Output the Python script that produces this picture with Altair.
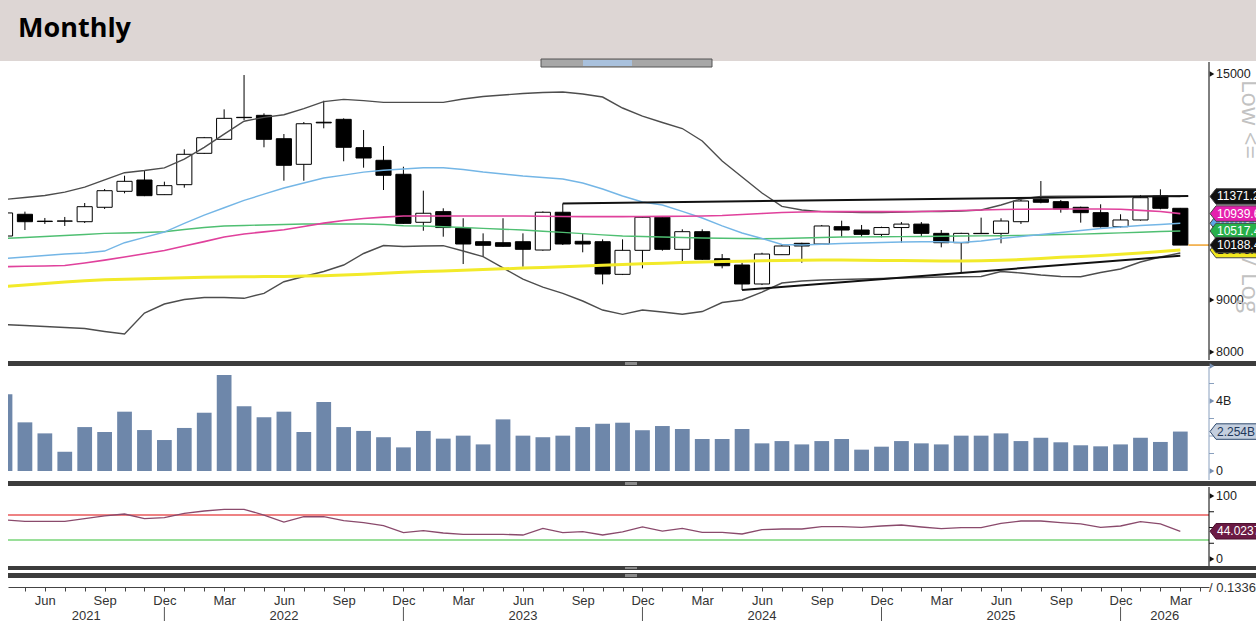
import altair as alt
import pandas as pd

# ---------------- data ----------------
months = pd.date_range("2021-04-01", periods=60, freq="MS")

open_px = [10399, 10923, 10745, 10755, 10741, 11097, 11505, 11803, 11418, 11679,
           12537, 12940, 13600, 13661, 12958, 12229, 13450, 13538, 12698, 12341,
           11957, 10727, 10988, 10582, 10266, 10243, 10266, 10075, 10973, 10275,
           10266, 9536, 10068, 10850, 10091, 10501, 9879, 9739, 9330, 9969,
           10229, 10213, 10621, 10541, 10438, 10600, 10683, 10462, 10243, 10455,
           10462, 10741, 11300, 11239, 11097, 10963, 10621, 10783, 11384, 11072]
high_px = [11030, 10988, 10832, 10857, 11205, 11565, 11918, 12046, 11758, 12651,
           13010, 13848, 14965, 13723, 13096, 13456, 14120, 13569, 13215, 12746,
           12163, 11521, 11072, 10825, 10462, 10825, 10462, 10993, 11193, 10445,
           10321, 10321, 10864, 10864, 10558, 10558, 9984, 9789, 10013, 10190,
           10243, 10662, 10766, 10662, 10621, 10732, 10732, 10541, 10476, 10840,
           10825, 11300, 11776, 11282, 11113, 11172, 10923, 11410, 11557, 11080]
low_px = [10352, 10541, 10686, 10638, 10710, 11055, 11453, 11380, 11410, 11600,
          12518, 12920, 13517, 12709, 11784, 11784, 13266, 12313, 12136, 11539,
          10690, 10524, 10383, 9761, 9924, 10150, 9701, 10060, 10190, 10023,
          9323, 9521, 9666, 10060, 9828, 9850, 9666, 9204, 9308, 9962,
          9789, 10190, 10383, 10383, 10369, 10243, 10399, 10136, 9579, 10445,
          10229, 10686, 11198, 10963, 10718, 10600, 10600, 10766, 11047, 10188.4]
close_px = [10956, 10741, 10755, 10758, 11112, 11521, 11768, 11392, 11653, 12509,
            12987, 13569, 13590, 12940, 12202, 13404, 13430, 12709, 12405, 11930,
            10701, 10948, 10600, 10213, 10183, 10160, 10091, 10973, 10213, 10213,
            9543, 10068, 10850, 10091, 10501, 9866, 9724, 9330, 9984, 10167,
            10167, 10638, 10541, 10438, 10600, 10683, 10462, 10243, 10462, 10462,
            10758, 11256, 11224, 11055, 10963, 10621, 10783, 11340, 11072, 10188.4]

volume_b = [4.38, 2.78, 2.15, 1.10, 2.51, 2.23, 3.39, 2.34, 1.77, 2.46,
            3.33, 5.49, 3.70, 3.07, 3.39, 2.23, 3.94, 2.51, 2.29, 1.93,
            1.35, 2.29, 1.85, 2.02, 1.52, 2.95, 2.02, 1.93, 2.02, 2.51,
            2.70, 2.76, 2.33, 2.57, 2.40, 1.83, 1.83, 2.40, 1.58, 1.71,
            1.52, 1.71, 1.83, 1.22, 1.39, 1.71, 1.58, 1.52, 2.02, 2.02,
            2.15, 1.71, 1.90, 1.64, 1.47, 1.41, 1.52, 1.90, 1.66, 2.254]

rsi = [61.9, 59.8, 59.8, 59.8, 64.0, 68.3, 71.4, 64.0, 65.6, 72.5,
       76.2, 78.8, 78.8, 69.8, 58.7, 67.1, 67.1, 60.8, 57.6, 52.9,
       41.8, 44.9, 41.3, 39.2, 39.2, 39.2, 38.1, 48.7, 41.8, 43.4,
       38.1, 43.0, 51.0, 44.4, 48.7, 42.3, 42.3, 39.7, 46.5, 47.6,
       47.6, 51.3, 51.3, 50.3, 52.4, 54.0, 50.8, 48.1, 49.7, 49.7,
       56.6, 60.3, 60.3, 57.6, 55.6, 50.3, 52.4, 59.2, 55.6, 44.0237]

bb_upper = [11295, 11346, 11397, 11483, 11613, 11806, 12000, 12059, 12131, 12374,
            12709, 13093, 13480, 13600, 13679, 13870, 14091, 14164, 14123, 14069,
            14069, 14069, 14069, 14174, 14255, 14304, 14353, 14386, 14402, 14337,
            14239, 13889, 13639, 13441, 13260, 12891, 12321, 11884, 11462, 11118,
            11030, 10988, 10980, 10968, 10968, 10980, 10993, 10993, 11005, 11030,
            11155, 11308, 11371, 11380, 11380, 11380, 11380, 11380, 11385, 11371.2]
bb_lower = [8513, 8494, 8474, 8455, 8436, 8380, 8332, 8738, 8917, 9008,
            9049, 9049, 9033, 9135, 9378, 9489, 9597, 9739, 9996, 10178,
            10155, 10167, 10174, 10052, 9924, 9674, 9435, 9266, 9135, 8978,
            8797, 8712, 8797, 8757, 8712, 8767, 8948, 8998, 9162, 9350,
            9393, 9414, 9425, 9435, 9446, 9457, 9468, 9478, 9485, 9489,
            9597, 9565, 9521, 9489, 9485, 9576, 9652, 9806, 9917, 10007]
ma_blue = [9884, 9917, 9951, 9984, 10007, 10052, 10243, 10368, 10493, 10698,
           10901, 11085, 11272, 11431, 11592, 11724, 11857, 11935, 12016, 12065,
           12100, 12136, 12136, 12087, 12019, 11965, 11911, 11870, 11830, 11724,
           11565, 11384, 11231, 11155, 10993, 10832, 10638, 10470, 10340, 10201,
           10190, 10206, 10225, 10236, 10248, 10259, 10266, 10266, 10248, 10282,
           10340, 10387, 10434, 10482, 10529, 10577, 10614, 10650, 10674, 10703]
ma_green = [10345, 10364, 10387, 10410, 10434, 10462, 10470, 10482, 10501, 10553,
            10602, 10638, 10650, 10662, 10674, 10686, 10686, 10686, 10686, 10674,
            10645, 10638, 10619, 10600, 10580, 10561, 10541, 10513, 10484, 10455,
            10427, 10399, 10387, 10375, 10364, 10352, 10345, 10340, 10336, 10340,
            10352, 10364, 10375, 10380, 10383, 10385, 10389, 10394, 10399, 10403,
            10406, 10415, 10424, 10434, 10443, 10460, 10474, 10489, 10505, 10517]
ma_pink = [9702, 9711, 9717, 9728, 9783, 9848, 9917, 9989, 10064, 10165,
           10268, 10375, 10448, 10496, 10546, 10626, 10706, 10769, 10818, 10852,
           10881, 10881, 10881, 10881, 10881, 10881, 10881, 10874, 10869, 10864,
           10864, 10866, 10869, 10871, 10876, 10881, 10894, 10918, 10943, 10968,
           10980, 10988, 10988, 10988, 10988, 10988, 10993, 11005, 11018, 11030,
           11043, 11048, 11050, 11053, 11055, 11055, 11048, 11020, 10990, 10939.6]
ma_yellow = [9277, 9308, 9340, 9372, 9399, 9418, 9429, 9440, 9452, 9463,
             9472, 9478, 9483, 9487, 9491, 9498, 9508, 9521, 9538, 9558,
             9580, 9595, 9610, 9625, 9641, 9656, 9671, 9687, 9700, 9715,
             9732, 9750, 9766, 9779, 9795, 9808, 9817, 9824, 9832, 9839,
             9846, 9850, 9850, 9846, 9841, 9837, 9832, 9828, 9828, 9832,
             9843, 9861, 9884, 9910, 9928, 9951, 9980, 10007, 10041, 10075]

trend_upper_idx = [28, 59.4]
trend_upper_val = [11193, 11384]
trend_lower_idx = [37, 59.0]
trend_lower_val = [9204, 9946]

last_price = 10188.4
price_ticks = [15000, 9000, 8000]
price_tick_labels = ["15000", "9000", "8000"]
vol_major = [6, 4, 0]
vol_major_labels = ["", "4B", "0"]
vol_minor = [1, 2, 3, 5]
rsi_major = [100, 0]
rsi_major_labels = ["100", "0"]
rsi_minor = [25, 50, 75]
rsi_levels = [70, 30]
rsi_level_colors = ["#e8585a", "#78d478"]

price_tags = [  # value, text, fill, text colour (drawing order)
    (10075.0, "10075.0", "#f2e81e", "#111111"),
    (10703.0, "10703.0", "#5ea6e6", "#ffffff"),
    (10517.4, "10517.4", "#27b04a", "#ffffff"),
    (10939.6, "10939.6", "#e51fae", "#ffffff"),
    (11371.2, "11371.2", "#111111", "#ffffff"),
    (10188.4, "10188.4", "#111111", "#ffffff"),
]

N = len(months)
assert all(len(a) == N for a in [open_px, high_px, low_px, close_px, volume_b, rsi,
                                  bb_upper, bb_lower, ma_blue, ma_green, ma_pink, ma_yellow])

df = pd.DataFrame({
    "idx": list(range(N)), "open": open_px, "high": high_px, "low": low_px,
    "close": close_px, "vol": volume_b, "rsi": rsi, "bb_up": bb_upper,
    "bb_lo": bb_lower, "ma_blue": ma_blue, "ma_green": ma_green,
    "ma_pink": ma_pink, "ma_yellow": ma_yellow,
})

# ---------------- scales ----------------
W, H = 1201, 525
X_DOMAIN = [0.15, 60.44]
x_scale = alt.Scale(domain=X_DOMAIN, nice=False, zero=False)
price_scale = alt.Scale(type="log", domain=[7857, 15412], range=[298, 0], nice=False)
vol_scale = alt.Scale(domain=[-0.514, 5.943], range=[418, 305], nice=False, zero=False)
rsi_scale = alt.Scale(domain=[-11.11, 114.29], range=[504, 425], nice=False, zero=False)

NARROW = "Liberation Sans Narrow, Arial Narrow, Liberation Sans, sans-serif"

parts = [f"datum.value == {i} ? '{d.strftime('%b')}'"
         for i, d in enumerate(months) if d.month in (3, 6, 9, 12)]
label_expr = " : ".join(parts) + " : ''"

x_axis = alt.Axis(values=list(range(1, 61)), labelExpr=label_expr, title=None, grid=False,
                  tickSize=4, tickColor="#444444", domainColor="#444444", labelFont=NARROW,
                  labelFontSize=13, labelColor="#333333", labelPadding=3,
                  labelOverlap=False, labelFlush=False)


def X(field):
    return alt.X(field, type="quantitative", scale=x_scale, axis=x_axis)


def Y(field, scale):
    return alt.Y(field, type="quantitative", scale=scale, axis=None)


one = pd.DataFrame({"k": [0]})
layers = []

# ---------------- header ----------------
layers.append(alt.Chart(one).mark_rect(fill="#ddd6d4").encode(
    x=alt.value(-8), x2=alt.value(1248), y=alt.value(-62), y2=alt.value(-1)))
layers.append(alt.Chart(one).mark_text(text="Monthly", align="left", baseline="alphabetic",
                                       font="Open Sans", fontWeight="bold", fontSize=27,
                                       color="#000000").encode(
    x=alt.value(10), y=alt.value(-25)))
layers.append(alt.Chart(one).mark_rect(fill="#a7a7a7", stroke="#555555", strokeWidth=1).encode(
    x=alt.value(533), x2=alt.value(704), y=alt.value(-3), y2=alt.value(5)))
layers.append(alt.Chart(one).mark_rect(fill="#a9c1dd").encode(
    x=alt.value(575), x2=alt.value(624), y=alt.value(-2), y2=alt.value(4)))

# ---------------- candles ----------------
base = alt.Chart(df)
layers.append(base.mark_rule(color="#000000", strokeWidth=1, clip=True).encode(
    x=X("idx"), y=Y("high", price_scale), y2="low"))
layers.append(base.transform_calculate(x0="datum.idx - 0.38", x1="datum.idx + 0.38")
              .mark_rect(stroke="#000000", strokeWidth=1, clip=True).encode(
    x=X("x0"), x2="x1", y=Y("open", price_scale), y2="close",
    fill=alt.condition("datum.close >= datum.open", alt.value("#ffffff"), alt.value("#000000"))))

# ---------------- indicator lines ----------------
for field, color, width in [("bb_up", "#4d4d4d", 1.4), ("bb_lo", "#4d4d4d", 1.4),
                            ("ma_yellow", "#f2ea2a", 3), ("ma_green", "#4fbf72", 1.4),
                            ("ma_blue", "#74b6e6", 1.4), ("ma_pink", "#e0419c", 1.6)]:
    layers.append(base.mark_line(color=color, strokeWidth=width, clip=True).encode(
        x=X("idx"), y=Y(field, price_scale)))

for tx, tv in [(trend_upper_idx, trend_upper_val), (trend_lower_idx, trend_lower_val)]:
    layers.append(alt.Chart(pd.DataFrame({"t": tx, "v": tv})).mark_line(
        color="#111111", strokeWidth=2, clip=True).encode(x=X("t"), y=Y("v", price_scale)))

layers.append(alt.Chart(pd.DataFrame({"a": [N - 1 + 0.4], "b": [X_DOMAIN[1]], "v": [last_price]}))
              .mark_rule(color="#f0a22e", strokeWidth=1.5).encode(
    x=X("a"), x2="b", y=Y("v", price_scale)))

# ---------------- volume ----------------
layers.append(base.transform_calculate(x0="datum.idx - 0.37", x1="datum.idx + 0.37", z="0")
              .mark_rect(color="#6e87aa", clip=True).encode(
    x=X("x0"), x2="x1", y=Y("vol", vol_scale), y2="z:Q"))

# ---------------- RSI ----------------
layers.append(alt.Chart(pd.DataFrame({"lvl": rsi_levels, "c": rsi_level_colors}))
              .mark_rule(strokeWidth=1.5).encode(
    y=Y("lvl", rsi_scale), color=alt.Color("c:N", scale=None)))
layers.append(base.mark_line(color="#8a4a6c", strokeWidth=1.3, clip=True).encode(
    x=X("idx"), y=Y("rsi", rsi_scale)))

# ---------------- separators ----------------
for y0, y1 in [(299, 304), (419, 424), (504, 508), (511, 516)]:
    layers.append(alt.Chart(one).mark_rect(fill="#3c3c3c").encode(
        x=alt.value(0), x2=alt.value(1248), y=alt.value(y0), y2=alt.value(y1)))
    layers.append(alt.Chart(one).mark_rect(fill="#8a8a8a").encode(
        x=alt.value(617), x2=alt.value(629), y=alt.value(y0 + 1), y2=alt.value(y1 - 1)))

# ---------------- right axes ----------------
for ya, yb, col in [(0, 298, "#000000"), (305, 418, "#8aa0be"), (425, 504, "#000000")]:
    layers.append(alt.Chart(one).mark_rule(color=col, strokeWidth=1).encode(
        x=alt.value(W), y=alt.value(ya), y2=alt.value(yb)))


def axis_marks(vals, labels, scale, col):
    d = pd.DataFrame({"v": vals, "t": labels})
    tri = alt.Chart(d).mark_point(shape="triangle-right", filled=True, size=28, opacity=1,
                                  color=col).encode(x=alt.value(W + 3), y=Y("v", scale))
    txt = alt.Chart(d).mark_text(align="left", baseline="middle", font=NARROW, fontSize=12.5,
                                 color="#222222").encode(
        x=alt.value(W + 7), y=Y("v", scale), text="t:N")
    return [tri, txt]


def minor_marks(vals, scale, col):
    d = pd.DataFrame({"v": vals})
    return [alt.Chart(d).mark_rule(color=col, strokeWidth=1).encode(
        x=alt.value(W), x2=alt.value(W + 5), y=Y("v", scale))]


layers += axis_marks(price_ticks, price_tick_labels, price_scale, "#111111")
layers += axis_marks(vol_major, vol_major_labels, vol_scale, "#7890b2")
layers += minor_marks(vol_minor, vol_scale, "#8aa0be")
layers += axis_marks(rsi_major, rsi_major_labels, rsi_scale, "#111111")
layers += minor_marks(rsi_minor, rsi_scale, "#111111")

# watermark text on the price axis
layers.append(alt.Chart(one).mark_text(text="Low <=", angle=90, align="left", baseline="middle",
                                       font="Open Sans", fontSize=24, color="#c2c2c2").encode(
    x=alt.value(1241), y=alt.value(18)))
layers.append(alt.Chart(one).mark_text(text="/ Log", angle=90, align="left", baseline="middle",
                                       font="Open Sans", fontSize=24, color="#c2c2c2").encode(
    x=alt.value(1241), y=alt.value(196)))

layers.append(alt.Chart(one).mark_text(text="/ 0.1336", align="left", baseline="alphabetic",
                                       font=NARROW, fontSize=13, color="#333333").encode(
    x=alt.value(W), y=alt.value(530)))

# ---------------- value tags ----------------
TAG_PATH = "M -1 0 L -0.88 -0.155 L 1 -0.155 L 1 0.155 L -0.88 0.155 Z"


def tag(value, text, fill, text_color, scale, stroke):
    d = pd.DataFrame({"v": [value], "t": [text]})
    shp = alt.Chart(d).mark_point(shape=TAG_PATH, size=10000, filled=True, opacity=1,
                                  fill=fill, stroke=stroke, strokeWidth=1).encode(
        x=alt.value(W + 51), y=Y("v", scale))
    txt = alt.Chart(d).mark_text(align="left", baseline="middle", font=NARROW, fontSize=12,
                                 color=text_color).encode(
        x=alt.value(W + 8), y=Y("v", scale), text="t:N")
    return [shp, txt]


for v, t, f, tc in price_tags:
    layers += tag(v, t, f, tc, price_scale, "#444444")
layers += tag(volume_b[-1], f"{volume_b[-1]:.3f}B", "#c4cfdf", "#22385a", vol_scale, "#2f4a6e")
layers += tag(rsi[-1], f"{rsi[-1]:.4f}", "#6b1a44", "#ffffff", rsi_scale, "#4a0f2e")

# ---------------- year labels / separators ----------------
dec_idx = [i for i, d in enumerate(months) if d.month == 12]
years = sorted(set(d.year for d in months))
year_centers = []
for yv in years:
    prev_dec = [i for i, d in enumerate(months) if d.month == 12 and d.year == yv - 1]
    this_dec = [i for i, d in enumerate(months) if d.month == 12 and d.year == yv]
    start = prev_dec[0] if prev_dec else X_DOMAIN[0]
    end = this_dec[0] if this_dec else X_DOMAIN[1]
    year_centers.append((start + end) / 2)

layers.append(alt.Chart(pd.DataFrame({"c": year_centers, "y": [str(y) for y in years]}))
              .mark_text(baseline="middle", font=NARROW, fontSize=13, color="#333333").encode(
    x=X("c"), y=alt.value(554), text="y:N"))
layers.append(alt.Chart(pd.DataFrame({"d": dec_idx})).mark_rule(color="#555555").encode(
    x=X("d"), y=alt.value(545), y2=alt.value(559)))

chart = (alt.layer(*layers)
         .resolve_scale(y="independent")
         .properties(width=W, height=H,
                     padding={"left": 8, "top": 62, "right": 47, "bottom": 34},
                     autosize=alt.AutoSizeParams(type="none"))
         .configure_view(stroke=None))

chart.save("out.html", embed_options={"renderer": "svg", "actions": False})
